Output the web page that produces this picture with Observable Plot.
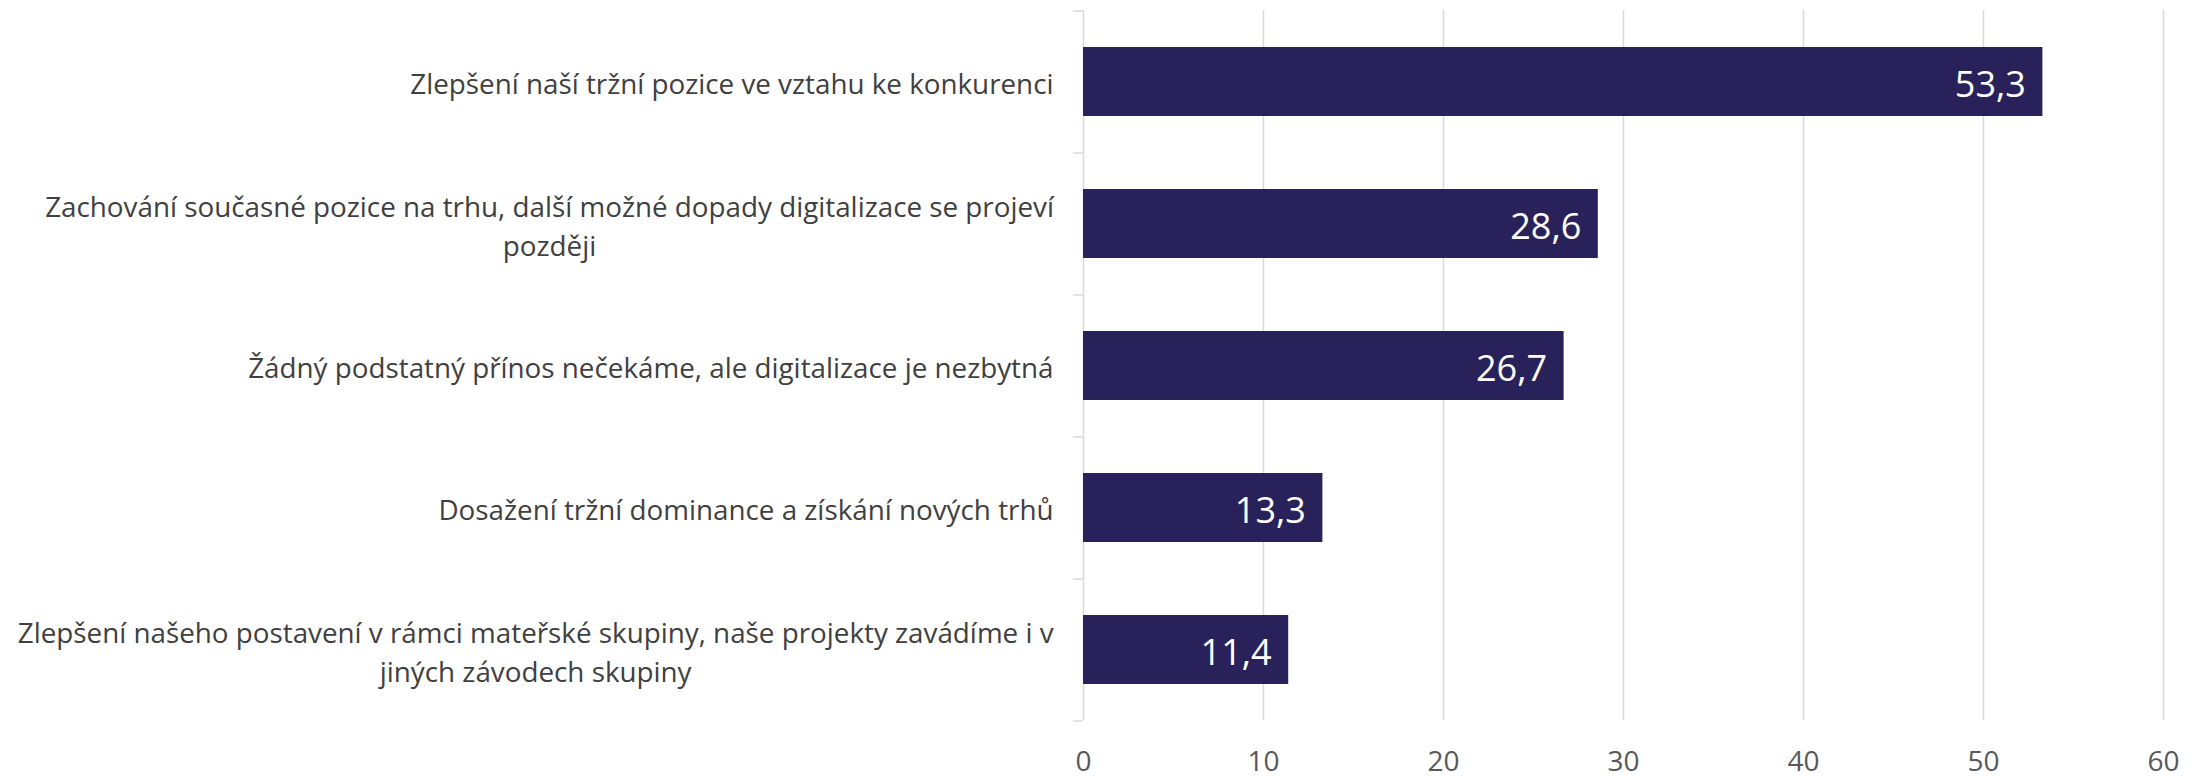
<!DOCTYPE html>
<html><head><meta charset="utf-8">
<script src="https://cdn.jsdelivr.net/npm/d3@7"></script>
<script src="https://cdn.jsdelivr.net/npm/@observablehq/plot@0.6"></script>
<style>body{margin:0;background:#fff;}</style>
</head><body><div id="chart"></div>
<script>
const categories = [
  "Zlepšení naší tržní pozice ve vztahu ke konkurenci",
  "Zachování současné pozice na trhu, další možné dopady digitalizace se projeví\npozději",
  "Žádný podstatný přínos nečekáme, ale digitalizace je nezbytná",
  "Dosažení tržní dominance a získání nových trhů",
  "Zlepšení našeho postavení v rámci mateřské skupiny, naše projekty zavádíme i v\njiných závodech skupiny"
];
const values = [53.3, 28.6, 26.7, 13.3, 11.4];
const xTicks = [0, 10, 20, 30, 40, 50, 60];

const data = categories.map((c, i) => ({category: c, value: values[i]}));
const W = 2198, H = 776;
const margin = {top: 10, right: 35, bottom: 56, left: 1083};
const step = (H - margin.top - margin.bottom) / categories.length;
const fmt = v => v.toFixed(1).replace(".", ",");

const plot = Plot.plot({
  width: W, height: H,
  marginTop: margin.top, marginRight: margin.right, marginBottom: margin.bottom, marginLeft: margin.left,
  style: {fontFamily: "'Open Sans', sans-serif", background: "#fff"},
  x: {domain: [0, 60], label: null},
  y: {domain: categories, paddingInner: 0.517, paddingOuter: 0.2585, label: null},
  marks: [
    Plot.gridX(xTicks.filter(t => t > 0), {stroke: "#d9d9d9", strokeOpacity: 1, strokeWidth: 1.5}),
    Plot.ruleX([0], {stroke: "#d9d9d9", strokeWidth: 1.5}),
    Plot.ruleY(categories, {y: d => d, x1: 0, x2: 0, insetLeft: -10, dy: -step / 2, stroke: "#d9d9d9", strokeWidth: 1.5}),
    Plot.ruleY(categories.slice(-1), {y: d => d, x1: 0, x2: 0, insetLeft: -10, dy: step / 2, stroke: "#d9d9d9", strokeWidth: 1.5}),
    Plot.barX(data, {y: "category", x: "value", fill: "#29225A"}),
    Plot.text(data, {y: "category", x: "value", text: d => fmt(d.value), textAnchor: "end", dx: -17, dy: 3, fill: "#fff", fontSize: 36}),
    Plot.axisX({ticks: xTicks, tickSize: 0, tickPadding: 31, fontSize: 28, fill: "#595959", tickFormat: d => String(d), label: null}),
    Plot.axisY({tickSize: 0, tickPadding: 30, fontSize: 27.8, fill: "#404040", lineHeight: 1.4, textOverflow: null, lineWidth: Infinity, label: null})
  ]
});
document.getElementById("chart").appendChild(plot);

// center multi-line category labels like the reference
plot.querySelectorAll('g[aria-label="y-axis tick label"] text').forEach(t => {
  const spans = t.querySelectorAll("tspan");
  if (spans.length > 1) {
    const b = t.getBBox();
    const cx = b.x + b.width / 2;
    t.setAttribute("text-anchor", "middle");
    spans.forEach(s => s.setAttribute("x", cx));
  }
});
</script>
</body></html>
